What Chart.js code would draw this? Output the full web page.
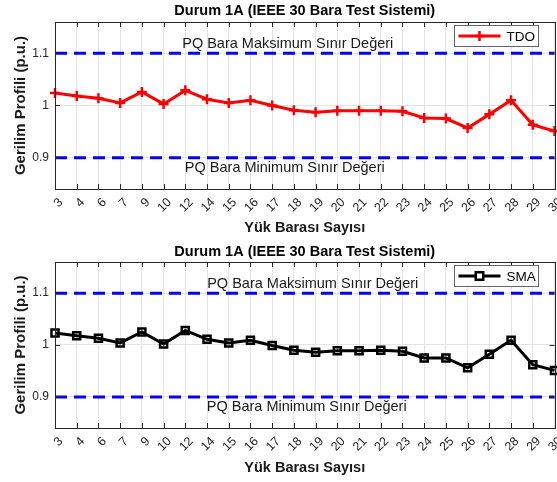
<!DOCTYPE html>
<html>
<head>
<meta charset="utf-8">
<script src="https://cdn.jsdelivr.net/npm/chart.js@4.4.1/dist/chart.umd.min.js"></script>
<style>
body { margin: 0; background: #fff; width: 557px; overflow: hidden; }
canvas { display: block; }
</style>
</head>
<body>
<canvas id="chartTdo" width="562" height="241"></canvas>
<canvas id="chartSma" width="562" height="241"></canvas>
<script>
// Data
const busLabels = ['3','4','6','7','9','10','12','14','15','16','17','18','19','20','21','22','23','24','25','26','27','28','29','30'];
const tdoValues = [1.024, 1.018, 1.014, 1.005, 1.026, 1.003, 1.029, 1.012, 1.005, 1.010, 1.000, 0.991, 0.987, 0.990, 0.990, 0.990, 0.989, 0.976, 0.975, 0.957, 0.983, 1.010, 0.963, 0.951];
const smaValues = [1.023, 1.018, 1.013, 1.004, 1.025, 1.002, 1.028, 1.011, 1.004, 1.009, 0.999, 0.990, 0.986, 0.989, 0.989, 0.990, 0.988, 0.975, 0.975, 0.956, 0.982, 1.009, 0.962, 0.951];
const yTicks = [0.9, 1, 1.1];
const maxLimit = 1.1;
const minLimit = 0.9;

const chartTitle = 'Durum 1A (IEEE 30 Bara Test Sistemi)';
const maxText = 'PQ Bara Maksimum Sınır Değeri';
const minText = 'PQ Bara Minimum Sınır Değeri';
const xTitle = 'Yük Barası Sayısı';
const yTitle = 'Gerilim Profili (p.u.)';

const FONT = '"Liberation Sans", Arial, Helvetica, sans-serif';
const GRID = '#e3e3e3';
const TICKTXT = '#262626';

// frame, inner ticks, title, limit texts, legend
const framePlugin = {
    id: 'frame',
    afterDraw(chart, args, o) {
        const { ctx, chartArea: a, scales } = chart;
        ctx.save();
        // inner ticks
        ctx.strokeStyle = '#262626'; ctx.lineWidth = 1;
        ctx.beginPath();
        busLabels.forEach((_, i) => {
            const x = Math.round(scales.x.getPixelForValue(i)) + 0.5;
            ctx.moveTo(x, a.bottom); ctx.lineTo(x, a.bottom - 5);
            ctx.moveTo(x, a.top); ctx.lineTo(x, a.top + 5);
        });
        yTicks.forEach(v => {
            const y = Math.round(scales.y.getPixelForValue(v)) + 0.5;
            ctx.moveTo(a.left, y); ctx.lineTo(a.left + 5, y);
            ctx.moveTo(a.right, y); ctx.lineTo(a.right - 5, y);
        });
        ctx.stroke();
        ctx.strokeRect(Math.round(a.left) + 0.5, Math.round(a.top) + 0.5, Math.round(a.right - a.left), Math.round(a.bottom - a.top));

        // title
        ctx.fillStyle = '#000';
        ctx.font = 'bold 14.5px ' + FONT;
        ctx.textAlign = 'center'; ctx.textBaseline = 'middle';
        ctx.fillText(chartTitle, (a.left + a.right) / 2, o.titleY);

        // limit texts
        ctx.font = '14.5px ' + FONT;
        ctx.fillStyle = '#1a1a1a';
        const w = a.right - a.left;
        ctx.fillText(maxText, a.left + w * o.maxTextX, scales.y.getPixelForValue(maxLimit) - 9);
        ctx.fillText(minText, a.left + w * o.minTextX, scales.y.getPixelForValue(minLimit) + 10);

        // legend
        const ds = chart.data.datasets[0];
        const bw = 84, bh = 21;
        const bx = Math.round(a.right - 17 - bw) + 0.5, by = Math.round(a.top + 3) + 0.5;
        ctx.fillStyle = '#fff';
        ctx.fillRect(bx, by, bw, bh);
        ctx.strokeStyle = '#666'; ctx.lineWidth = 1;
        ctx.strokeRect(bx, by, bw, bh);
        const cy = by + bh / 2;
        ctx.strokeStyle = ds.borderColor; ctx.lineWidth = 3;
        ctx.beginPath(); ctx.moveTo(bx + 4, cy); ctx.lineTo(bx + 46, cy); ctx.stroke();
        const mx = bx + 25, r = ds.pointRadius;
        ctx.lineWidth = ds.pointBorderWidth;
        ctx.beginPath();
        if (ds.pointStyle === 'cross') {
            ctx.moveTo(mx - r, cy); ctx.lineTo(mx + r, cy);
            ctx.moveTo(mx, cy - r); ctx.lineTo(mx, cy + r);
            ctx.stroke();
        } else {
            ctx.fillStyle = '#fff';
            ctx.rect(mx - r * 0.75, cy - r * 0.75, r * 1.5, r * 1.5);
            ctx.fill(); ctx.stroke();
        }
        ctx.fillStyle = '#000';
        ctx.font = '13.5px ' + FONT;
        ctx.textAlign = 'left';
        ctx.fillText(ds.label, bx + 52, cy + 1);
        ctx.restore();
    }
};

function makeChart(id, label, values, color, pointStyle, pointRadius, lay) {
    return new Chart(document.getElementById(id), {
        type: 'line',
        data: {
            labels: busLabels,
            datasets: [
                {
                    label: label,
                    data: values,
                    borderColor: color,
                    borderWidth: 3,
                    pointStyle: pointStyle,
                    pointRadius: pointRadius,
                    pointBorderWidth: 2.5,
                    pointBorderColor: color,
                    pointBackgroundColor: 'rgba(255,255,255,0)',
                    tension: 0,
                    order: 0
                },
                {
                    label: 'max',
                    data: busLabels.map(() => maxLimit),
                    borderColor: '#0000ff',
                    borderWidth: 3,
                    borderDash: [12, 7],
                    pointRadius: 0,
                    order: 1
                },
                {
                    label: 'min',
                    data: busLabels.map(() => minLimit),
                    borderColor: '#0000ff',
                    borderWidth: 3,
                    borderDash: [12, 7],
                    pointRadius: 0,
                    order: 1
                }
            ]
        },
        options: {
            responsive: false,
            animation: false,
            devicePixelRatio: 1,
            layout: { padding: { top: lay.top, right: 2, left: 0, bottom: 0 } },
            plugins: {
                legend: { display: false },
                title: { display: false },
                tooltip: { enabled: false },
                frame: { titleY: lay.titleY, maxTextX: lay.maxTextX, minTextX: lay.minTextX }
            },
            scales: {
                x: {
                    type: 'category',
                    offset: false,
                    grid: { color: GRID, drawTicks: false },
                    border: { display: false },
                    ticks: { autoSkip: false, maxRotation: 45, minRotation: 45, padding: 6, labelOffset: 6, color: TICKTXT, font: { family: FONT, size: 12.5 } },
                    title: { display: true, text: xTitle, color: '#1a1a1a', font: { family: FONT, size: 14.5, weight: 'bold' }, padding: { top: 0, bottom: lay.xTitlePad } },
                    afterFit: s => { s.height = lay.xHeight; s.paddingLeft = 0; s.paddingRight = 0; }
                },
                y: {
                    min: 0.84,
                    max: 1.16,
                    afterBuildTicks: s => { s.ticks = yTicks.map(v => ({ value: v })); },
                    grid: { color: GRID, drawTicks: false },
                    border: { display: false },
                    ticks: { padding: 6, color: TICKTXT, font: { family: FONT, size: 12 }, callback: v => String(v) },
                    title: { display: true, text: yTitle, color: '#1a1a1a', font: { family: FONT, size: 15, weight: 'bold' }, padding: { top: 12, bottom: 0 } },
                    afterFit: s => { s.width = 55; }
                }
            }
        },
        plugins: [framePlugin]
    });
}

makeChart('chartTdo', 'TDO', tdoValues, '#ff0000', 'cross', 5, { top: 22, xHeight: 52, xTitlePad: 4, titleY: 11, maxTextX: 0.466, minTextX: 0.46 });
makeChart('chartSma', 'SMA', smaValues, '#000000', 'rect', 5, { top: 21, xHeight: 54, xTitlePad: 5, titleY: 11, maxTextX: 0.516, minTextX: 0.504 });
</script>
</body>
</html>
